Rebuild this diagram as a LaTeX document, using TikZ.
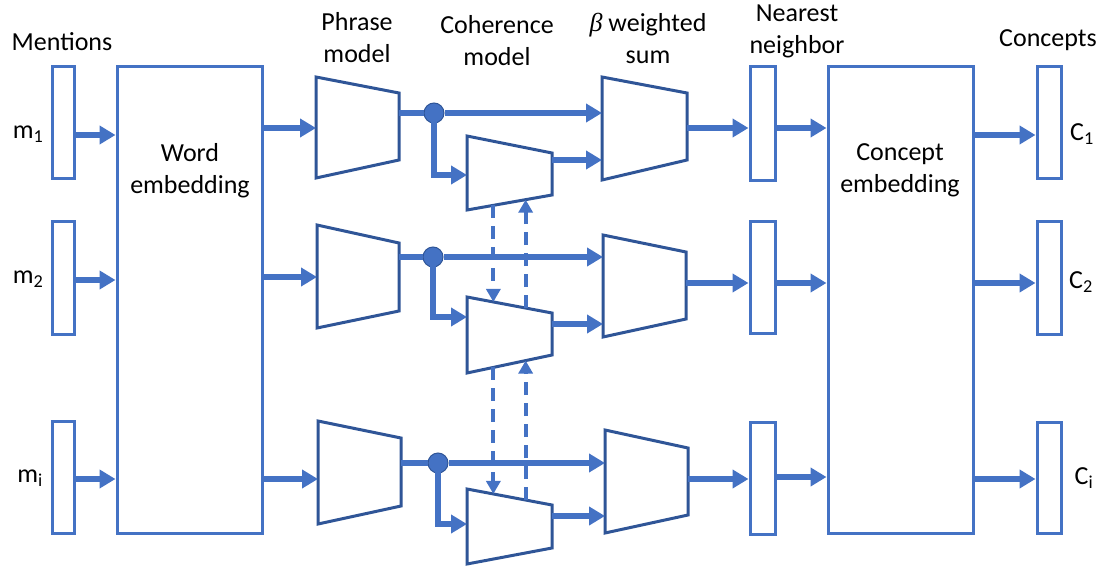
\documentclass[tikz,border=0pt]{standalone}
\usepackage{fontspec}
\setmainfont{Carlito}
\newfontfamily\grk{Liberation Serif}
\usetikzlibrary{arrows.meta,calc}
\definecolor{bb}{HTML}{4472C4}
\definecolor{db}{HTML}{2F5597}
\newcommand\trapz[7]{%
  \draw[trap] (#2,#3) coordinate (#1-tl) -- (#5,#6) coordinate (#1-tr)
    -- (#5,#7) coordinate (#1-br) -- (#2,#4) coordinate (#1-bl) -- cycle;
  \coordinate (#1-w) at (#2,{(#3+#4)/2});
  \coordinate (#1-e) at (#5,{(#6+#7)/2});
}
\begin{document}
\begin{tikzpicture}[x=1pt,y=-1pt,
  box/.style={draw=bb,line width=3pt,inner sep=0pt},
  trap/.style={draw=db,line width=3pt,line join=miter},
  arr/.style={draw=bb,line width=5.5pt,-{Triangle[length=16pt,width=18pt]}},
  lnk/.style={draw=bb,line width=5.5pt},
  darr/.style={draw=bb,line width=4pt,dash pattern=on 13pt off 8pt,-{Triangle[length=13pt,width=14pt]}},
  dot/.style={circle,fill=bb,draw=db,line width=1pt,minimum size=20pt,inner sep=0pt},
  lab/.style={font=\fontsize{26}{32}\selectfont,align=center,text=black,inner sep=0pt},
]
\useasboundingbox (0,0) rectangle (1107,567);

% titles
\node[lab] (tMen) at (62,42) {Mentions};
\node[lab] (tPhr) at (357,38) {Phrase\\model};
\node[lab] (tCoh) at (497,41) {Coherence\\model};
\node[lab] (tBet) at (648,38) {{\grk\itshape β} weighted\\sum};
\node[lab] (tNea) at (797,31) {Nearest\\neighbor};
\node[lab] (tCon) at (1048,40) {Concepts};

% mention boxes
\node[box,minimum width=22,minimum height=111] (m1) at (63,122.5) {};
\node[box,minimum width=22,minimum height=113] (m2) at (63,277.5) {};
\node[box,minimum width=22,minimum height=112] (m3) at (63,477) {};
\node[lab] (lm1) at (28,134) {m\textsubscript{1}};
\node[lab] (lm2) at (28,279) {m\textsubscript{2}};
\node[lab] (lm3) at (30,478) {m\textsubscript{i}};

% big boxes
\node[box,minimum width=145,minimum height=466] (we) at (189.5,300) {};
\node[lab] (twe) at (190,171) {Word\\embedding};
\node[box,minimum width=145,minimum height=466] (ce) at (900.5,300) {};
\node[lab] (tce) at (900,170) {Concept\\embedding};

% nearest neighbour boxes
\node[box,minimum width=25,minimum height=113] (n1) at (762.5,123.5) {};
\node[box,minimum width=25,minimum height=112] (n2) at (762.5,277) {};
\node[box,minimum width=25,minimum height=112] (n3) at (762.5,478) {};

% concept boxes
\node[box,minimum width=24,minimum height=111] (k1) at (1049,122.5) {};
\node[box,minimum width=24,minimum height=113] (k2) at (1049,277.5) {};
\node[box,minimum width=24,minimum height=111] (k3) at (1049,477.5) {};
\node[lab] (lk1) at (1082,134) {C\textsubscript{1}};
\node[lab] (lk2) at (1081,282) {C\textsubscript{2}};
\node[lab] (lk3) at (1084,478) {C\textsubscript{i}};

% trapezoids: phrase, coherence, beta
\trapz{p1}{316}{77}{178}{399}{93}{160}
\trapz{p2}{317}{225}{328}{399}{243}{311}
\trapz{p3}{318}{421}{524}{401}{438}{506}
\trapz{c1}{467}{136}{210}{552}{153}{195}
\trapz{c2}{467}{297}{373}{552}{313}{355}
\trapz{c3}{467}{489}{564}{552}{505}{548}
\trapz{b1}{602}{77}{180}{687}{93}{160}
\trapz{b2}{603}{235}{337}{686}{252}{319}
\trapz{b3}{605}{430}{533}{688}{448}{515}

% row helper coordinates
\coordinate (y1a) at (0,135); \coordinate (y1b) at (0,128);
\coordinate (y1c) at (0,175); \coordinate (y1d) at (0,160);
\coordinate (y2a) at (0,280); \coordinate (y2b) at (0,277);
\coordinate (y2c) at (0,317); \coordinate (y2d) at (0,324);
\coordinate (y2e) at (0,283);
\coordinate (y3a) at (0,479); \coordinate (y3b) at (0,477);
\coordinate (y3c) at (0,524); \coordinate (y3d) at (0,516);

% dots
\node[dot] (d1) at (434,113) {};
\node[dot] (d2) at (433,257) {};
\node[dot] (d3) at (438,463) {};

% row 1
\draw[arr] (m1.east |- y1a) -- (we.west |- y1a);
\draw[arr] (we.east |- y1b) -- (p1-tl |- y1b);
\draw[lnk] (p1-tr |- d1) -- (d1);
\draw[arr] (d1) -- (b1-tl |- d1);
\draw[arr] (d1.center) |- (c1-tl |- y1c);
\draw[arr] (c1-tr |- y1d) -- (b1-tl |- y1d);
\draw[arr] (b1-tr |- y1b) -- (n1.west |- y1b);
\draw[arr] (n1.east |- y1b) -- (ce.west |- y1b);
\draw[arr] (ce.east |- y1a) -- (k1.west |- y1a);

% row 2
\draw[arr] (m2.east |- y2a) -- (we.west |- y2a);
\draw[arr] (we.east |- y2b) -- (p2-tl |- y2b);
\draw[lnk] (p2-tr |- d2) -- (d2);
\draw[arr] (d2) -- (b2-tl |- d2);
\draw[arr] (d2.center) |- (c2-tl |- y2c);
\draw[arr] (c2-tr |- y2d) -- (b2-tl |- y2d);
\draw[arr] (b2-tr |- y2e) -- (n2.west |- y2e);
\draw[arr] (n2.east |- y2e) -- (ce.west |- y2e);
\draw[arr] (ce.east |- y2e) -- (k2.west |- y2e);

% row 3
\draw[arr] (m3.east |- y3a) -- (we.west |- y3a);
\draw[arr] (we.east |- y3a) -- (p3-tl |- y3a);
\draw[lnk] (p3-tr |- d3) -- (d3);
\draw[arr] (d3) -- (b3-tl |- d3);
\draw[arr] (d3.center) |- (c3-tl |- y3c);
\draw[arr] (c3-tr |- y3d) -- (b3-tl |- y3d);
\draw[arr] (b3-tr |- y3a) -- (n3.west |- y3a);
\draw[arr] (n3.east |- y3b) -- (ce.west |- y3b);
\draw[arr] (ce.east |- y3a) -- (k3.west |- y3a);

% coherence exchange (dashed)
\draw[darr] ($(c1-bl)!0.31!(c1-br)$) -- ($(c2-tl)!0.31!(c2-tr)$);
\draw[darr] ($(c2-tl)!0.69!(c2-tr)$) -- ($(c1-bl)!0.69!(c1-br)$);
\draw[darr] ($(c2-bl)!0.31!(c2-br)$) -- ($(c3-tl)!0.31!(c3-tr)$);
\draw[darr] ($(c3-tl)!0.69!(c3-tr)$) -- ($(c2-bl)!0.69!(c2-br)$);
\end{tikzpicture}
\end{document}
